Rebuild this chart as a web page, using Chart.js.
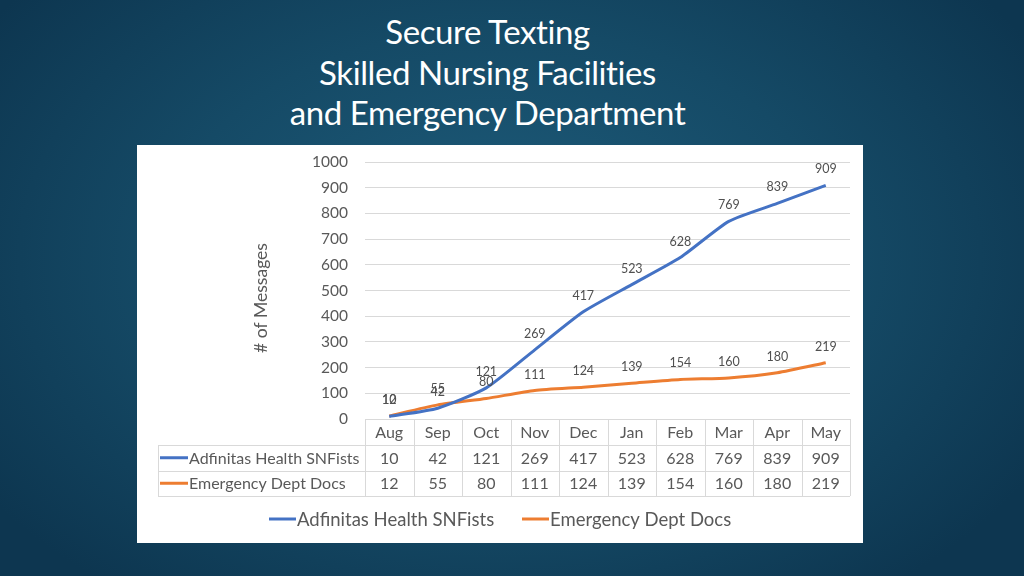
<!DOCTYPE html>
<html><head><meta charset="utf-8">
<script src="https://cdn.jsdelivr.net/npm/chart.js"></script>
<style>
html,body{margin:0;padding:0;width:1024px;height:576px;overflow:hidden}
body{background:radial-gradient(ellipse 620px 420px at 500px 260px,#1e5d7c 0%,#154a66 55%,#0d3650 100%);position:relative}
#title{position:absolute;left:0;top:11px;width:975px;text-align:center;color:#fff;font-family:Lato,"Open Sans",sans-serif;font-size:33px;line-height:40.5px;letter-spacing:-0.4px}
#panel{position:absolute;left:137px;top:145px;width:726px;height:398px;background:#fff}
canvas{display:block}
</style></head>
<body>
<div id="title">Secure Texting<br>Skilled Nursing Facilities<br>and Emergency Department</div>
<div id="panel"><canvas id="c" width="726" height="398"></canvas></div>
<script>
const categories = ["Aug","Sep","Oct","Nov","Dec","Jan","Feb","Mar","Apr","May"];
const snfists = [10,42,121,269,417,523,628,769,839,909];
const edDocs = [12,55,80,111,124,139,154,160,180,219];
const seriesNames = ["Adfinitas Health SNFists","Emergency Dept Docs"];
const yTicks = [0,100,200,300,400,500,600,700,800,900,1000];
const yTitle = "# of Messages";

const BLUE = "#4472C4", ORANGE = "#ED7D31", TXT = "#595959", GRID = "#d9d9d9";
const FONT = "Lato, 'Open Sans', sans-serif";

const extras = {
  id: "extras",
  afterDatasetsDraw(chart) {
    const ctx = chart.ctx, ca = chart.chartArea, xs = chart.scales.x;
    ctx.save();
    // y title
    ctx.fillStyle = TXT;
    ctx.font = "17.5px " + FONT;
    ctx.textAlign = "center"; ctx.textBaseline = "middle";
    ctx.save(); ctx.translate(124, 153); ctx.rotate(-Math.PI/2); ctx.fillText(yTitle, 0, 0); ctx.restore();
    // data labels
    ctx.font = "12.5px " + FONT;
    ctx.fillStyle = "#505050";
    chart.data.datasets.forEach((ds, di) => {
      chart.getDatasetMeta(di).data.forEach((pt, i) => {
        ctx.fillText(String(ds.data[i]), pt.x, pt.y - 16);
      });
    });
    // data table
    const n = categories.length;
    const w = (ca.right - ca.left) / n;
    const top = ca.bottom, r1 = top + 26, r2 = r1 + 25.5, r3 = r2 + 25.5;
    const tLeft = 21;
    ctx.strokeStyle = GRID; ctx.lineWidth = 1;
    ctx.beginPath();
    ctx.moveTo(ca.left, top + 0.5); ctx.lineTo(ca.right, top + 0.5);
    [r1, r2, r3].forEach(y => { ctx.moveTo(tLeft, Math.round(y) + 0.5); ctx.lineTo(ca.right, Math.round(y) + 0.5); });
    ctx.moveTo(tLeft + 0.5, Math.round(r1)); ctx.lineTo(tLeft + 0.5, Math.round(r3));
    for (let i = 0; i <= n; i++) {
      const x = Math.round(ca.left + i * w) + 0.5;
      ctx.moveTo(x, top); ctx.lineTo(x, Math.round(r3));
    }
    ctx.stroke();
    ctx.fillStyle = TXT;
    ctx.font = "16px " + FONT;
    ctx.textAlign = "center";
    categories.forEach((c, i) => {
      const x = xs.getPixelForValue(i);
      ctx.fillText(c, x, (top + r1) / 2 + 1);
      ctx.fillText(String(snfists[i]), x, (r1 + r2) / 2 + 1);
      ctx.fillText(String(edDocs[i]), x, (r2 + r3) / 2 + 1);
    });
    ctx.textAlign = "left";
    [[BLUE, (r1 + r2) / 2], [ORANGE, (r2 + r3) / 2]].forEach(([col, y], k) => {
      ctx.strokeStyle = col; ctx.lineWidth = 3;
      ctx.beginPath(); ctx.moveTo(23, y); ctx.lineTo(51, y); ctx.stroke();
      ctx.fillText(seriesNames[k], 52, y + 1);
    });
    // legend
    ctx.font = "18.5px " + FONT;
    const ly = 374;
    const items = [[BLUE, 132, seriesNames[0]], [ORANGE, 385, seriesNames[1]]];
    items.forEach(([col, x, t]) => {
      ctx.strokeStyle = col; ctx.lineWidth = 3;
      ctx.beginPath(); ctx.moveTo(x, ly); ctx.lineTo(x + 27, ly); ctx.stroke();
      ctx.fillStyle = TXT;
      ctx.fillText(t, x + 28, ly + 1);
    });
    ctx.restore();
  }
};

new Chart(document.getElementById("c"), {
  type: "line",
  data: {
    labels: categories,
    datasets: [
      { label: seriesNames[0], data: snfists, borderColor: BLUE, backgroundColor: BLUE, borderWidth: 3, pointRadius: 0, tension: 0.2, fill: false },
      { label: seriesNames[1], data: edDocs, borderColor: ORANGE, backgroundColor: ORANGE, borderWidth: 3, pointRadius: 0, tension: 0.2, fill: false }
    ]
  },
  options: {
    responsive: false, animation: false,
    layout: { padding: { top: 17, right: 13, bottom: 124, left: 0 } },
    plugins: { legend: { display: false }, tooltip: { enabled: false } },
    scales: {
      x: { type: "category", display: false, offset: true },
      y: {
        min: 0, max: 1000,
        afterFit(s) { s.width = 228; s.paddingTop = 0; s.paddingBottom = 0; },
        afterBuildTicks(s) { s.ticks = yTicks.map(v => ({ value: v })); },
        border: { display: false },
        grid: { color: GRID, drawTicks: false, lineWidth: 1 },
        ticks: { color: TXT, font: { family: FONT, size: 15.5 }, padding: 17, callback: v => String(v) }
      }
    }
  },
  plugins: [extras]
});
</script>
</body></html>
